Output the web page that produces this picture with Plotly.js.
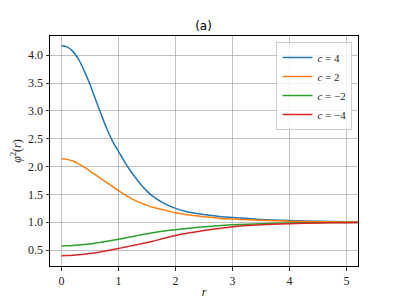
<!DOCTYPE html>
<html>
<head>
<meta charset="utf-8">
<script src="https://cdn.plot.ly/plotly-3.0.1.min.js"></script>
<style>html,body{margin:0;padding:0;background:#fff;}#chart{width:399px;height:299px;}</style>
</head>
<body>
<div id="chart"></div>
<script>
const r = [0, 0.1, 0.2, 0.3, 0.4, 0.5, 0.6, 0.7, 0.8, 0.9, 1.0, 1.1, 1.2, 1.3, 1.4, 1.5, 1.6, 1.8, 2.0, 2.2, 2.5, 2.8, 3.0, 3.5, 4.0, 4.5, 5.0, 5.2];
const phiC4  = [4.17, 4.15, 4.07, 3.93, 3.72, 3.48, 3.20, 2.93, 2.67, 2.45, 2.275, 2.10, 1.94, 1.80, 1.67, 1.56, 1.47, 1.34, 1.25, 1.19, 1.14, 1.10, 1.085, 1.05, 1.03, 1.018, 1.01, 1.008];
const phiC2  = [2.14, 2.13, 2.10, 2.05, 1.99, 1.92, 1.85, 1.78, 1.71, 1.64, 1.57, 1.50, 1.44, 1.39, 1.345, 1.305, 1.27, 1.22, 1.17, 1.135, 1.10, 1.07, 1.06, 1.035, 1.02, 1.012, 1.006, 1.005];
const phiCm2 = [0.575, 0.577, 0.582, 0.59, 0.60, 0.612, 0.627, 0.643, 0.66, 0.677, 0.695, 0.715, 0.735, 0.755, 0.775, 0.795, 0.812, 0.842, 0.868, 0.89, 0.918, 0.942, 0.955, 0.975, 0.986, 0.993, 0.997, 0.998];
const phiCm4 = [0.40, 0.402, 0.408, 0.417, 0.428, 0.44, 0.455, 0.472, 0.49, 0.51, 0.53, 0.551, 0.572, 0.593, 0.614, 0.636, 0.659, 0.712, 0.762, 0.804, 0.852, 0.895, 0.922, 0.955, 0.975, 0.987, 0.994, 0.996];
const names = ['<i>c</i> = 4', '<i>c</i> = 2', '<i>c</i> = −2', '<i>c</i> = −4'];
const series = [phiC4, phiC2, phiCm2, phiCm4];
const colors = ['#1f77b4', '#ff7f0e', '#2ca02c', '#d62728'];
const xTicks = [0, 1, 2, 3, 4, 5];
const yTicks = [0.5, 1.0, 1.5, 2.0, 2.5, 3.0, 3.5, 4.0];

const serif = "'Liberation Serif', 'DejaVu Serif', serif";
const traces = series.map((s, i) => ({
  x: r, y: s, name: names[i], type: 'scatter', mode: 'lines',
  line: {color: colors[i], width: 1.5, shape: 'spline', smoothing: 0.8}
}));

const axisCommon = {
  showline: true, mirror: true, linecolor: '#000', linewidth: 1,
  ticks: 'outside', ticklen: 3.5, tickwidth: 0.8, tickcolor: '#000',
  showgrid: true, gridcolor: '#b0b0b0', gridwidth: 0.8, zeroline: false,
  tickfont: {family: serif, size: 12, color: '#222'}
};

const layout = {
  width: 399, height: 299,
  margin: {l: 50, r: 41, t: 36, b: 33},
  paper_bgcolor: '#fff', plot_bgcolor: '#fff',
  title: {text: '(a)', font: {family: 'DejaVu Sans, sans-serif', size: 12, color: '#000'}, x: 0.51, xanchor: 'center', y: 0.915, yanchor: 'middle'},
  xaxis: Object.assign({}, axisCommon, {
    range: [-0.2, 5.2], tickvals: xTicks, ticktext: xTicks.map(String),
    title: {text: '<i>r</i>', font: {family: serif, size: 12, color: '#222'}, standoff: 5}
  }),
  yaxis: Object.assign({}, axisCommon, {
    range: [0.215, 4.346], tickvals: yTicks, ticktext: yTicks.map(v => v.toFixed(1)),
    title: {text: '<i>φ</i><sup>2</sup>(<i>r</i>)', font: {family: serif, size: 12, color: '#222'}, standoff: 3}
  }),
  showlegend: true,
  legend: {
    x: 0.982, y: 0.974, xanchor: 'right', yanchor: 'top',
    bgcolor: 'rgba(255,255,255,0.8)', bordercolor: '#cccccc', borderwidth: 1,
    font: {family: serif, size: 11, color: '#222'}, itemwidth: 30,
    tracegroupgap: 0
  }
};

Plotly.newPlot('chart', traces, layout, {displayModeBar: false, staticPlot: true});
</script>
</body>
</html>
